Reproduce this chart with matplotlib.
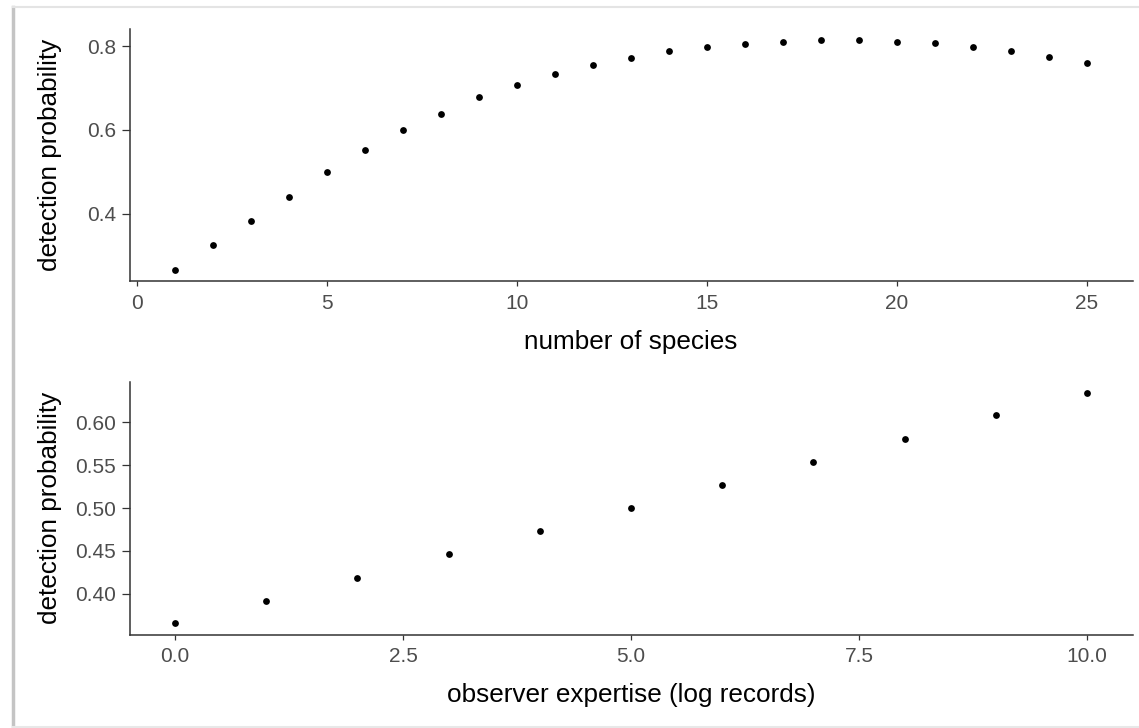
import matplotlib
matplotlib.use("Agg")
import matplotlib.pyplot as plt
from matplotlib.lines import Line2D
import numpy as np

plt.rcParams['font.family'] = ['Liberation Sans', 'DejaVu Sans']

# ---- data ----
species_n = [1, 2, 3, 4, 5, 6, 7, 8, 9, 10, 11, 12, 13, 14, 15, 16, 17, 18, 19, 20, 21, 22, 23, 24, 25]
species_p = [0.267, 0.325, 0.383, 0.441, 0.500, 0.552, 0.601, 0.639, 0.678, 0.707,
             0.733, 0.756, 0.772, 0.788, 0.798, 0.805, 0.811, 0.814, 0.814, 0.811,
             0.808, 0.798, 0.788, 0.775, 0.760]
expertise = [0, 1, 2, 3, 4, 5, 6, 7, 8, 9, 10]
expertise_p = [0.366, 0.392, 0.419, 0.446, 0.473, 0.500, 0.527, 0.554, 0.581, 0.608, 0.634]

top_xticks = [0, 5, 10, 15, 20, 25]
top_yticks = [0.4, 0.6, 0.8]
bot_xticks = [0.0, 2.5, 5.0, 7.5, 10.0]
bot_yticks = [0.40, 0.45, 0.50, 0.55, 0.60]

W, H = 1139, 728
fig = plt.figure(figsize=(W / 100, H / 100), dpi=100)
fig.patch.set_facecolor('white')

def px_axes(left, top, right, bottom):
    return fig.add_axes([left / W, 1 - bottom / H, (right - left) / W, (bottom - top) / H])

def expand(vals, f=0.05):
    lo, hi = min(vals), max(vals)
    r = hi - lo
    return lo - f * r, hi + f * r

AX_COL = '#333333'
TICK_COL = '#4D4D4D'

def style(ax, xlab, ylab, xticks, yticks, xfmt, yfmt):
    for s in ['top', 'right']:
        ax.spines[s].set_visible(False)
    for s in ['left', 'bottom']:
        ax.spines[s].set_color(AX_COL)
        ax.spines[s].set_linewidth(1.1)
    ax.set_xticks(xticks)
    ax.set_yticks(yticks)
    ax.set_xticklabels([xfmt.format(v) for v in xticks])
    ax.set_yticklabels([yfmt.format(v) for v in yticks])
    ax.tick_params(axis='both', direction='out', width=0.9, color=AX_COL,
                   labelcolor=TICK_COL, labelsize=15)
    ax.tick_params(axis='x', length=3.8, pad=5.5)
    ax.tick_params(axis='y', length=5.5, pad=4.3)
    ax.set_xlabel(xlab, fontsize=18.8, color='black', labelpad=12)
    ax.set_ylabel(ylab, fontsize=18.8, color='black')
    ax.yaxis.label.set_va('center')
    ax.yaxis.set_label_coords((50 - 129.5) / 1003, 0.5)
    ax.set_facecolor('white')

# top panel
ax1 = px_axes(129.5, 28.8, 1132.5, 281)
ax1.scatter(species_n, species_p, s=24, color='black', linewidths=0, zorder=3)
ax1.set_xlim(*expand(species_n))
ax1.set_ylim(*expand(species_p))
style(ax1, 'number of species', 'detection probability', top_xticks, top_yticks, '{:g}', '{:.1f}')

# bottom panel
ax2 = px_axes(129.5, 381.7, 1132.5, 634.5)
ax2.scatter(expertise, expertise_p, s=24, color='black', linewidths=0, zorder=3)
ax2.set_xlim(*expand(expertise))
ax2.set_ylim(*expand(expertise_p))
style(ax2, 'observer expertise (log records)', 'detection probability', bot_xticks, bot_yticks, '{:.1f}', '{:.2f}')

# screenshot frame shadow
fig.add_artist(Line2D([12.5 / W, 12.5 / W], [0, 1 - 7 / H], transform=fig.transFigure,
                      color='#C4C4C4', linewidth=2.5))
fig.add_artist(Line2D([12.5 / W, 1], [1 - 7 / H, 1 - 7 / H], transform=fig.transFigure,
                      color='#E4E4E4', linewidth=1.5))
fig.add_artist(Line2D([12.5 / W, 1], [1 - 727 / H, 1 - 727 / H], transform=fig.transFigure,
                      color='#E8E8E8', linewidth=1.5))

fig.savefig('out.png', dpi=100, facecolor='white')
